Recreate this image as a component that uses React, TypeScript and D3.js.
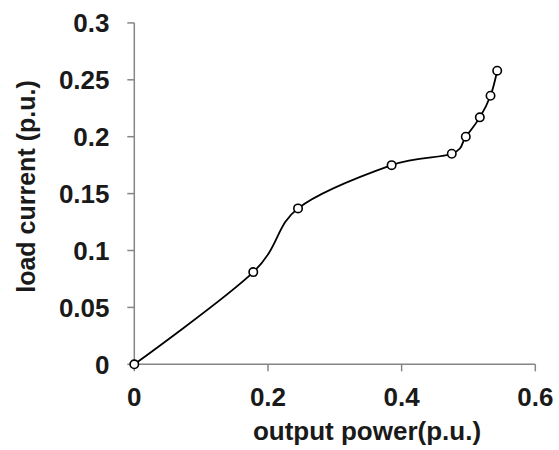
import React from "react";
import * as d3 from "d3";

// Output power (p.u.) against load current (p.u.)
const outputPower = [0, 0.178, 0.245, 0.385, 0.475, 0.496, 0.517, 0.533, 0.543];
const loadCurrent = [0, 0.081, 0.137, 0.175, 0.185, 0.2, 0.217, 0.236, 0.258];

const xTicks = [0, 0.2, 0.4, 0.6];
const yTicks = [0, 0.05, 0.1, 0.15, 0.2, 0.25, 0.3];
const xTickLabels = ["0", "0.2", "0.4", "0.6"];
const yTickLabels = ["0", "0.05", "0.1", "0.15", "0.2", "0.25", "0.3"];

const W = 559;
const H = 450;
const FONT = "'Liberation Sans', Arial, Helvetica, sans-serif";

export default function App() {
  const x = d3.scaleLinear().domain([0, 0.6]).range([134.3, 535.3]);
  const y = d3.scaleLinear().domain([0, 0.3]).range([364.3, 22.9]);

  const pts: [number, number][] = outputPower.map((p, i) => [p, loadCurrent[i]]);
  const line = d3
    .line<[number, number]>()
    .x((d) => x(d[0]))
    .y((d) => y(d[1]))
    .curve(d3.curveCardinal.tension(0));

  const axisColor = "#868686";

  return (
    <svg
      width={W}
      height={H}
      style={{ position: "absolute", left: 0, top: 0, background: "#ffffff" }}
      fontFamily={FONT}
    >
      {/* y axis */}
      <line x1={x(0)} x2={x(0)} y1={y(0)} y2={y(0.3)} stroke={axisColor} strokeWidth={1.5} />
      {yTicks.map((t, i) => (
        <g key={"y" + i}>
          <line x1={x(0) - 7} x2={x(0)} y1={y(t)} y2={y(t)} stroke={axisColor} strokeWidth={1.5} />
          <text
            x={109.5}
            y={y(t)}
            dy="0.36em"
            textAnchor="end"
            fontSize={26}
            fontWeight="bold"
            fill="#1a1a1a"
          >
            {yTickLabels[i]}
          </text>
        </g>
      ))}
      {/* x axis */}
      <line x1={x(0)} x2={x(0.6)} y1={y(0)} y2={y(0)} stroke={axisColor} strokeWidth={1.5} />
      {xTicks.map((t, i) => (
        <g key={"x" + i}>
          <line x1={x(t)} x2={x(t)} y1={y(0)} y2={y(0) + 7} stroke={axisColor} strokeWidth={1.5} />
          <text
            x={x(t)}
            y={405.5}
            textAnchor="middle"
            fontSize={26}
            fontWeight="bold"
            fill="#1a1a1a"
          >
            {xTickLabels[i]}
          </text>
        </g>
      ))}
      {/* axis titles */}
      <text
        x={367}
        y={440}
        textAnchor="middle"
        fontSize={26}
        fontWeight="bold"
        fill="#1a1a1a"
      >
        output power(p.u.)
      </text>
      <text
        transform={`translate(35,186.5) rotate(-90)`}
        textAnchor="middle"
        fontSize={25}
        fontWeight="bold"
        fill="#1a1a1a"
      >
        load current (p.u.)
      </text>
      {/* data */}
      <path d={line(pts) || ""} fill="none" stroke="#000" strokeWidth={1.8} />
      {pts.map((d, i) => (
        <circle
          key={"p" + i}
          cx={x(d[0])}
          cy={y(d[1])}
          r={4.2}
          fill="#fff"
          stroke="#000"
          strokeWidth={1.6}
        />
      ))}
    </svg>
  );
}
